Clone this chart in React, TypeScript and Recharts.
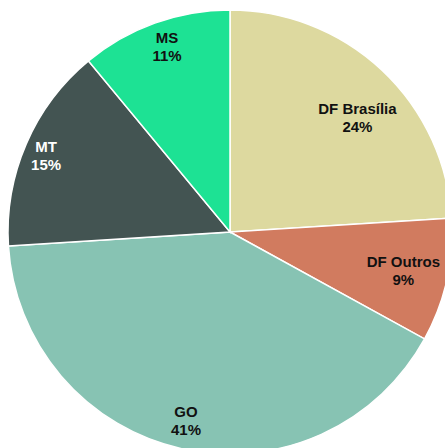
import { PieChart, Pie, Cell } from 'recharts';

// Share of each region, clockwise from 12 o'clock
const regions = ['DF Brasília', 'DF Outros', 'GO', 'MT', 'MS'];
const shares = [24, 9, 41, 15, 11];
const colors = ['#DDD99F', '#D17B5F', '#87C3B3', '#435452', '#1DE294'];
const labelColors = ['#111111', '#111111', '#111111', '#FFFFFF', '#111111'];

// label placement: fraction of the radius, plus a small angle nudge (degrees)
const labelRadius = [0.77, 0.8, 0.875, 0.896, 0.88];
const labelNudge = [-5, 0, -0.5, 1, -1];

const data = regions.map((name, i) => ({ name, value: shares[i] }));

const RAD = Math.PI / 180;

const renderLabel = (props: any) => {
  const { cx, cy, midAngle, outerRadius, index } = props;
  const angle = (midAngle + labelNudge[index]) * RAD;
  const r = outerRadius * labelRadius[index];
  const x = cx + r * Math.cos(-angle);
  const y = cy + r * Math.sin(-angle);
  return (
    <text
      x={x}
      y={y}
      fill={labelColors[index]}
      textAnchor="middle"
      fontFamily="'Liberation Sans', Arial, sans-serif"
      fontWeight="bold"
      fontSize={15}
    >
      <tspan x={x} dy={-4}>{regions[index]}</tspan>
      <tspan x={x} dy={18}>{`${shares[index]}%`}</tspan>
    </text>
  );
};

export default function App() {
  return (
    <div style={{ position: 'absolute', top: 0, left: 0, background: '#fff' }}>
      <PieChart width={445} height={448} margin={{ top: 0, right: 0, bottom: 0, left: 0 }}>
        <Pie
          data={data}
          dataKey="value"
          nameKey="name"
          cx={230}
          cy={232}
          outerRadius={222}
          startAngle={90}
          endAngle={-270}
          stroke="#FFFFFF"
          strokeWidth={1.5}
          label={renderLabel}
          labelLine={false}
          isAnimationActive={false}
        >
          {data.map((d, i) => (
            <Cell key={d.name} fill={colors[i]} />
          ))}
        </Pie>
      </PieChart>
    </div>
  );
}
